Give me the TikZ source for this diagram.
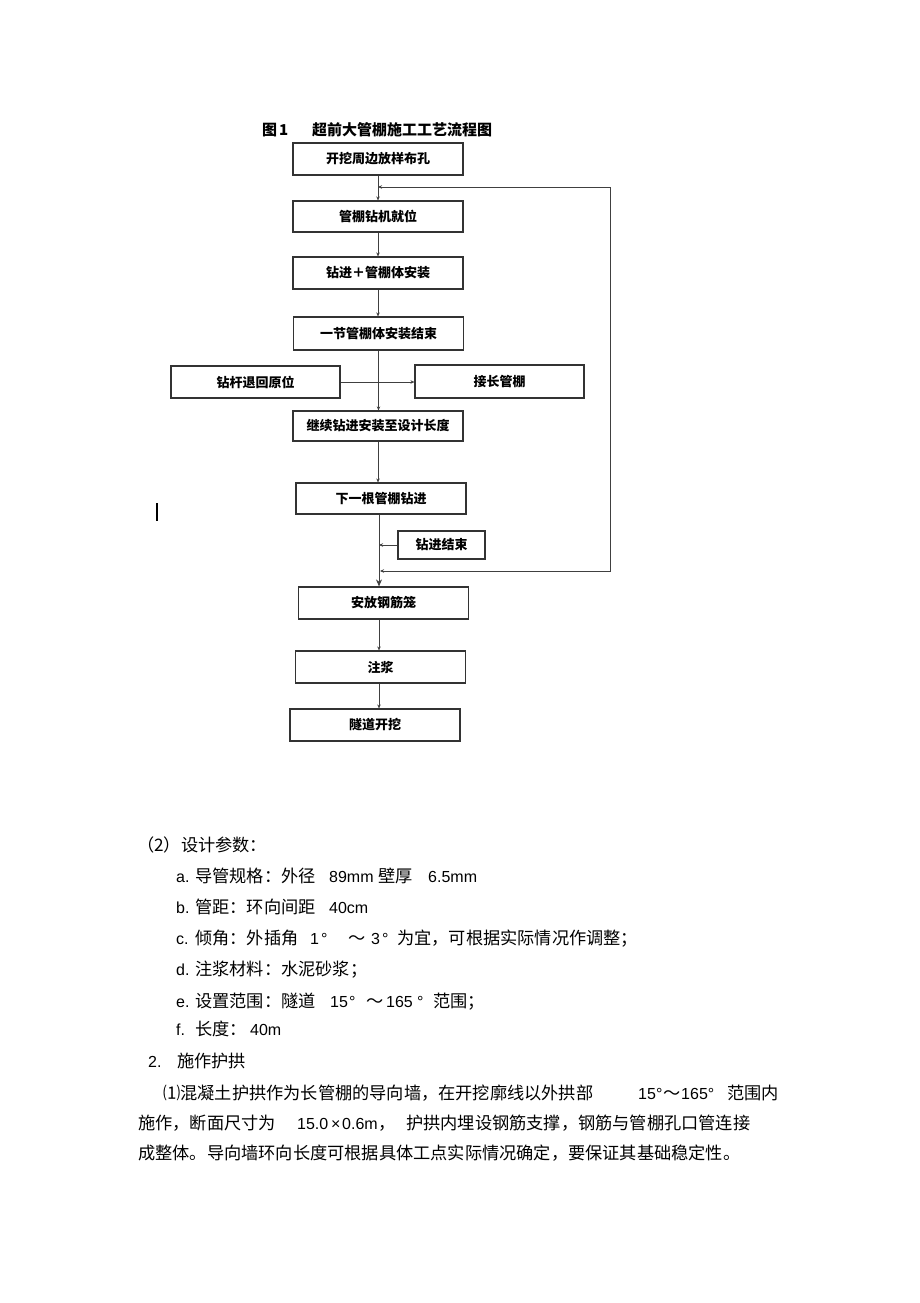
\documentclass[tikz,border=0pt]{standalone}
\usepackage{fontspec}
\setmainfont{Liberation Sans}
\newfontfamily\cjk{Noto Sans CJK SC}
\usetikzlibrary{arrows.meta}

\tikzset{
  box/.style={draw=black!80, line width=1.2pt, minimum width=170pt, minimum height=32pt,
    inner sep=0pt, font=\cjk\bfseries\fontsize{13}{15}\selectfont},
  link/.style={draw=black!75, line width=0.9pt},
  arr/.style={link, -{Stealth[length=4pt,width=3.5pt]}},
  ttl/.style={anchor=base west, inner sep=0pt, font=\cjk\bfseries\fontsize{15}{17}\selectfont},
  txt/.style={anchor=base west, inner sep=0pt, font=\fontsize{16}{20}\selectfont},
  ctxt/.style={txt, font=\cjk\fontsize{17.2}{20}\selectfont},
}

\begin{document}
\begin{tikzpicture}[x=1pt,y=-1pt]
\fill[white] (0,0) rectangle (920,1303);

% title
\node[ttl] (tu) at (262,135.5) {图};
\node[ttl] (tuno) at (279,135.5) {1};
\node[ttl] (title) at (312,135.5) {超前大管棚施工工艺流程图};

% flow chart
\node[box] (kwfy) at (378,159) {开挖周边放样布孔};
\node[box, minimum height=31pt] (zjjw) at (378,216.5) {管棚钻机就位};
\node[box] (zjaz) at (378,273) {钻进＋管棚体安装};
\node[box, minimum height=33pt] (yjjs) at (378.5,333.5) {一节管棚体安装结束};
\node[box, minimum width=169pt] (ztyw) at (255.5,382) {钻杆退回原位};
\node[box, minimum width=169pt, minimum height=33pt] (jcgp) at (499.5,381.5) {接长管棚};
\node[box, minimum height=30pt] (jxzj) at (378,426) {继续钻进安装至设计长度};
\node[box, minimum height=31pt] (xygp) at (381,498.5) {下一根管棚钻进};
\node[box, minimum width=87pt, minimum height=28pt] (zjjs) at (441.5,545) {钻进结束};
\node[box] (afgj) at (383.5,603) {安放钢筋笼};
\node[box] (zj) at (380.5,667) {注浆};
\node[box] (sdkw) at (375,725) {隧道开挖};

\coordinate (axis) at (379,0);
\coordinate (hui) at (378,187);
\coordinate (rt) at (610,187);
\coordinate (rb) at (610,571);
\coordinate (ru) at (380,571);

\draw[arr] (kwfy) -- (zjjw);
\draw[arr] (zjjw) -- (zjaz);
\draw[arr] (zjaz.south) -- (zjaz.south |- yjjs.north);
\draw[arr] (yjjs.south) -- (yjjs.south |- jxzj.north);
\draw[arr] (ztyw.east) -- (ztyw.east -| jcgp.west);
\draw[arr] (jxzj.south) -- (jxzj.south |- xygp.north);
\draw[link, -{Stealth[length=7pt,width=6pt]}] (xygp.south -| axis) -- (afgj.north -| axis);
\draw[arr] (zjjs.west) -- (zjjs.west -| axis);
\draw[arr] (afgj.south -| axis) -- (zj.north -| axis);
\draw[arr] (zj.south -| axis) -- (sdkw.north -| axis);
\draw[link, {Stealth[length=4pt,width=3.5pt]}-{Stealth[length=4pt,width=3.5pt]}]
  (hui) -- (rt) -- (rb) -- (ru);

\draw[line width=2.2pt] (157,503) -- (157,521);

% text below
\node[ctxt] (p0) at (137,851.5) {（2）设计参数：};

\node[txt] (a0) at (176,882) {a.};
\node[ctxt] (a1) at (195,882) {导管规格：外径};
\node[txt] (a2) at (329,882) {89mm};
\node[ctxt] (a3) at (378,882) {壁厚};
\node[txt] (a4) at (428,882) {6.5mm};

\node[txt] (b0) at (176,913.5) {b.};
\node[ctxt] (b1) at (195,913.5) {管距：环向间距};
\node[txt] (b2) at (329,913.5) {40cm};

\node[txt] (c0) at (176,944.5) {c.};
\node[ctxt] (c1) at (195,944.5) {倾角：外插角};
\node[txt] (c2) at (310,944.5) {1};
\node[txt] (c3) at (321,944.5) {°};
\node[ctxt] (c4) at (348,944.5) {～};
\node[txt] (c5) at (371,944.5) {3};
\node[txt] (c6) at (382,944.5) {°};
\node[ctxt] (c7) at (397,944.5) {为宜，可根据实际情况作调整；};

\node[txt] (d0) at (176,975.5) {d.};
\node[ctxt] (d1) at (195,975.5) {注浆材料：水泥砂浆；};

\node[txt] (e0) at (176,1007.5) {e.};
\node[ctxt] (e1) at (195,1007.5) {设置范围：隧道};
\node[txt] (e2) at (330,1007.5) {15};
\node[txt] (e3) at (349,1007.5) {°};
\node[ctxt] (e4) at (366,1007.5) {～};
\node[txt] (e5) at (386,1007.5) {165};
\node[txt] (e6) at (417,1007.5) {°};
\node[ctxt] (e7) at (433,1007.5) {范围；};

\node[txt] (f0) at (176,1035.5) {f.};
\node[ctxt] (f1) at (195,1035.5) {长度：};
\node[txt] (f2) at (250,1035.5) {40m};

\node[txt] (g0) at (148,1067.5) {2.};
\node[ctxt] (g1) at (177,1067.5) {施作护拱};

\node[ctxt] (h0) at (163,1099.5) {⑴混凝土护拱作为长管棚的导向墙，在开挖廓线以外拱部};
\node[txt] (h1) at (638,1099.5) {15°};
\node[ctxt] (h2) at (663,1099.5) {～};
\node[txt] (h3) at (681,1099.5) {165°};
\node[ctxt] (h4) at (727,1099.5) {范围内};

\node[ctxt] (i0) at (138,1129.5) {施作，断面尺寸为};
\node[txt] (i1) at (297,1129.5) {15.0};
\node[txt] (i2) at (331,1129.5) {×};
\node[txt] (i3) at (342,1129.5) {0.6m};
\node[ctxt] (i4) at (378,1129.5) {，};
\node[ctxt] (i5) at (406,1129.5) {护拱内埋设钢筋支撑，钢筋与管棚孔口管连接};

\node[ctxt] (j0) at (138,1159.5) {成整体。导向墙环向长度可根据具体工点实际情况确定，要保证其基础稳定性。};
\end{tikzpicture}
\end{document}
